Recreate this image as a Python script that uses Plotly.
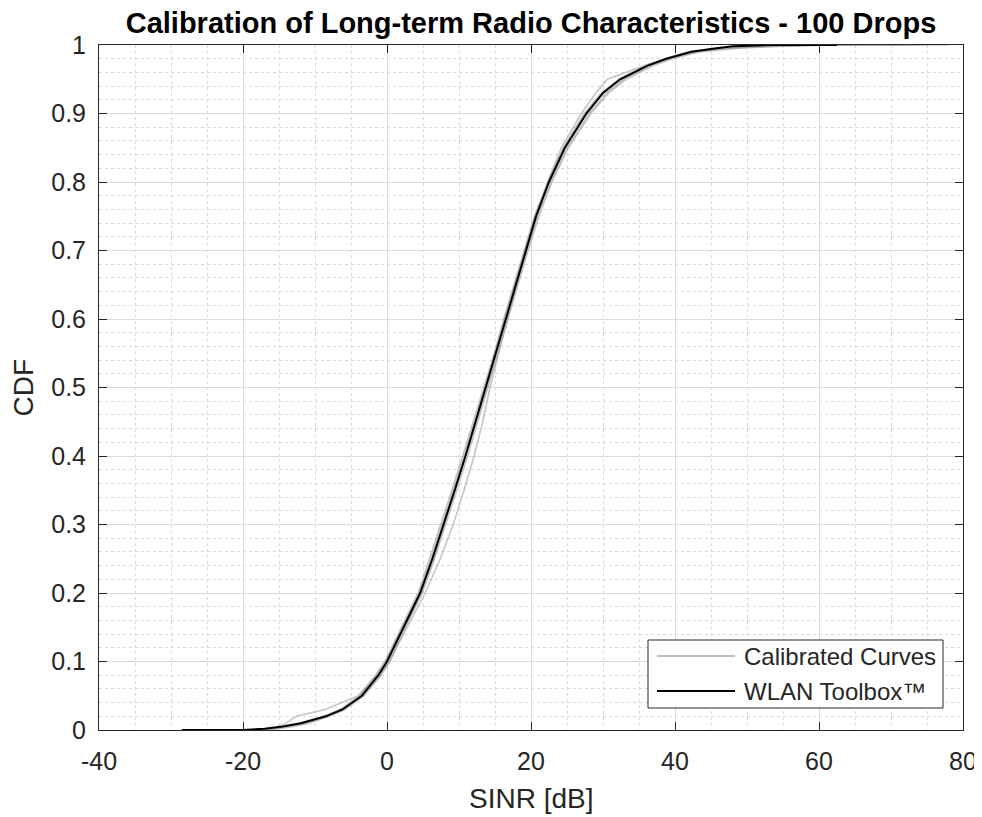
import plotly.graph_objects as go

# ---------------- data ----------------
cdf_levels = [0.0, 0.0, 0.002, 0.005, 0.01, 0.02, 0.03, 0.05, 0.08, 0.10, 0.15, 0.20, 0.25,
              0.30, 0.35, 0.40, 0.45, 0.50, 0.55, 0.60, 0.65, 0.70, 0.75, 0.80, 0.85,
              0.90, 0.93, 0.95, 0.97, 0.98, 0.99, 0.995, 0.998, 1.0, 1.0]

wlan_sinr = [-28.5, -20.0, -17.0, -14.5, -12.0, -8.5, -6.2, -3.5, -1.2, 0.0, 2.3, 4.6, 6.3,
             7.9, 9.4, 10.9, 12.3, 13.7, 15.0, 16.4, 17.8, 19.2, 20.7, 22.5, 24.7,
             27.7, 30.0, 32.4, 36.2, 38.8, 42.3, 45.5, 48.0, 53.0, 62.5]

calib_1 = [-24.0, -18.5, -16.5, -14.2, -11.6, -8.8, -6.5, -3.8, -1.5, -0.3, 2.0, 4.3, 5.9,
           7.5, 9.0, 10.5, 12.0, 13.5, 14.9, 16.2, 17.6, 19.0, 20.5, 22.3, 24.5,
           27.4, 29.8, 32.2, 35.9, 38.6, 42.0, 46.0, 52.0, 60.0, 78.0]

calib_2 = [-22.0, -17.5, -15.8, -13.6, -11.2, -8.2, -6.0, -3.3, -1.0, 0.3, 2.8, 5.3, 7.4,
           9.2, 10.7, 12.1, 13.3, 14.3, 15.5, 16.7, 18.0, 19.4, 20.9, 22.8, 25.0,
           28.1, 30.5, 32.9, 36.7, 39.2, 43.0, 47.0, 51.0, 58.0, 70.0]

calib_3 = [-20.0, -16.5, -15.0, -13.0, -10.8, -8.0, -5.8, -3.2, -0.8, 0.4, 2.6, 4.8, 6.5,
           8.0, 9.5, 11.0, 12.5, 13.9, 15.3, 16.6, 18.0, 19.4, 20.8, 22.3, 24.2,
           27.0, 29.0, 30.6, 35.8, 38.6, 42.0, 45.8, 50.0, 56.0, 66.0]

calib_4 = [-19.0, -17.0, -16.0, -15.2, -14.0, -12.6, -8.6, -4.0, -1.6, -0.2, 2.2, 4.5, 6.1,
           7.7, 9.2, 10.7, 12.2, 13.6, 15.0, 16.3, 17.7, 19.1, 20.5, 22.4, 24.6,
           27.5, 30.0, 32.3, 36.0, 38.7, 42.2, 46.5, 53.0, 62.0, 75.0]

calib_5 = [-21.0, -18.0, -16.2, -14.0, -11.8, -8.4, -6.1, -3.4, -1.0, 0.2, 2.5, 4.9, 6.6,
           8.2, 9.7, 11.2, 12.6, 14.0, 15.4, 16.7, 18.2, 19.6, 21.1, 22.9, 25.2,
           28.3, 30.8, 33.2, 37.0, 39.7, 43.4, 48.5, 54.0, 61.0, 72.0]

calibrated_curves = [calib_1, calib_2, calib_3, calib_4, calib_5]

x_tick_vals = [-40, -20, 0, 20, 40, 60, 80]
x_tick_text = ["-40", "-20", "0", "20", "40", "60", "80"]
y_tick_vals = [0, 0.1, 0.2, 0.3, 0.4, 0.5, 0.6, 0.7, 0.8, 0.9, 1.0]
y_tick_text = ["0", "0.1", "0.2", "0.3", "0.4", "0.5", "0.6", "0.7", "0.8", "0.9", "1"]

legend_labels = ["Calibrated Curves", "WLAN Toolbox™"]

# ---------------- figure ----------------
FONT = "Liberation Sans, Arial, Helvetica, sans-serif"
TXT = "#262626"
GRAY = "rgba(160,160,160,0.6)"
GRAY_LEG = "#a8a8a8"

# The page body has an 8 px margin; the figure is sized so that the
# plot area lands on the reference pixels.
OFF = 8
PAGE_W, PAGE_H = 982, 817
W, H = PAGE_W - OFF, PAGE_H - OFF
# plot area in page pixels
L, R, T, B = 99, 963, 45, 730


def px_x(px):
    return (px - L) / (R - L)


def px_y(py):
    return (B - py) / (B - T)


fig = go.Figure()

for xs in calibrated_curves:
    fig.add_trace(go.Scatter(
        x=xs, y=cdf_levels, mode="lines",
        line=dict(color=GRAY, width=1.6),
        name=legend_labels[0], showlegend=False,
    ))

fig.add_trace(go.Scatter(
    x=wlan_sinr, y=cdf_levels, mode="lines",
    line=dict(color="#000000", width=2),
    name=legend_labels[1], showlegend=False,
))

axis_common = dict(
    showline=True, linecolor=TXT, linewidth=1, mirror="ticks",
    ticks="inside", ticklen=8, tickwidth=1, tickcolor=TXT,
    showgrid=True, gridcolor="#dcdcdc", gridwidth=1,
    zeroline=False, automargin=False,
    tickfont=dict(family=FONT, size=25, color=TXT),
)

fig.update_xaxes(
    range=[-40, 80], tickvals=x_tick_vals, ticktext=x_tick_text,
    ticklabelstandoff=9,
    minor=dict(dtick=5, tick0=0, showgrid=True, gridcolor="#d9d9d9", griddash="3px,3px", gridwidth=1, ticks=""),
    **axis_common,
)
fig.update_yaxes(
    range=[0, 1], tickvals=y_tick_vals, ticktext=y_tick_text,
    ticklabelstandoff=7,
    minor=dict(dtick=0.02, tick0=0, showgrid=True, gridcolor="#d9d9d9", griddash="3px,3px", gridwidth=1, ticks=""),
    **axis_common,
)

# hand-built legend (MATLAB style, long line samples)
box = dict(x0=px_x(648), x1=px_x(943), y0=px_y(708), y1=px_y(640))
shapes = [
    dict(type="rect", xref="paper", yref="paper", **box,
         line=dict(color=TXT, width=1), fillcolor="white", layer="above"),
    dict(type="line", xref="paper", yref="paper",
         x0=px_x(657), x1=px_x(735), y0=px_y(656), y1=px_y(656),
         line=dict(color=GRAY_LEG, width=1.6), layer="above"),
    dict(type="line", xref="paper", yref="paper",
         x0=px_x(657), x1=px_x(735), y0=px_y(691), y1=px_y(691),
         line=dict(color="#000000", width=2), layer="above"),
]

annotations = [
    dict(text=legend_labels[0], x=px_x(742), y=px_y(656), xref="paper", yref="paper",
         xanchor="left", yanchor="middle", showarrow=False,
         font=dict(family=FONT, size=24, color=TXT)),
    dict(text=legend_labels[1], x=px_x(742), y=px_y(691), xref="paper", yref="paper",
         xanchor="left", yanchor="middle", showarrow=False,
         font=dict(family=FONT, size=24, color=TXT)),
    dict(text="SINR [dB]", x=0.5, y=0, xref="paper", yref="paper",
         xanchor="center", yanchor="middle", yshift=-68, showarrow=False,
         font=dict(family=FONT, size=28, color=TXT)),
    dict(text="CDF", x=0, y=0.5, xref="paper", yref="paper",
         xanchor="center", yanchor="middle", xshift=-76, textangle=-90, showarrow=False,
         font=dict(family=FONT, size=28, color=TXT)),
]

fig.update_layout(
    width=W, height=H,
    margin=dict(l=L - OFF, r=PAGE_W - R, t=T - OFF, b=PAGE_H - B, autoexpand=False),
    paper_bgcolor="white", plot_bgcolor="white",
    font=dict(family=FONT, color=TXT),
    showlegend=False,
    title=dict(
        text="<b>Calibration of Long-term Radio Characteristics - 100 Drops</b>",
        x=0.5, xref="paper", xanchor="center",
        y=1 - (23 - OFF) / H, yref="container", yanchor="middle",
        font=dict(family=FONT, size=29, color="#000000"),
    ),
    shapes=shapes,
    annotations=annotations,
)

fig.write_html("out.html")
